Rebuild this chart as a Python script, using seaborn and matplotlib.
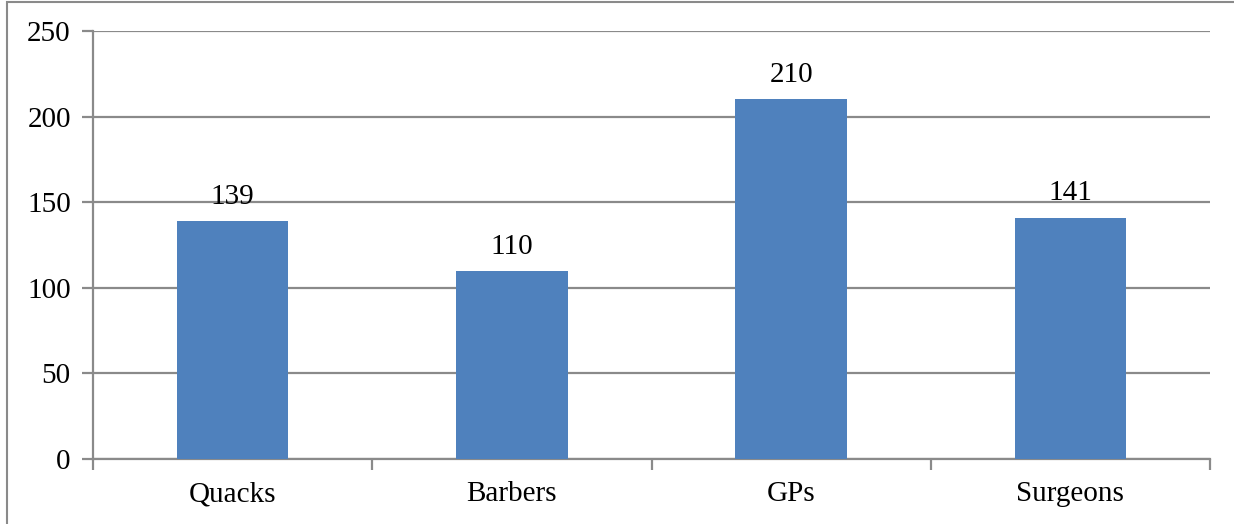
import matplotlib
matplotlib.use("Agg")
import matplotlib.pyplot as plt
from matplotlib.patches import Rectangle
import seaborn as sns
import pandas as pd

categories = ["Quacks", "Barbers", "GPs", "Surgeons"]
counts = [139, 110, 210, 141]
y_ticks = [0, 50, 100, 150, 200, 250]

sns.set_theme(style="white")
plt.rcParams["font.family"] = ["Liberation Serif", "DejaVu Serif"]

df = pd.DataFrame({"category": categories, "count": counts})

fig = plt.figure(figsize=(12.34, 5.24), dpi=100)
ax = fig.add_axes([93 / 1234, 1 - 459 / 524, (1210 - 93) / 1234, (459 - 31) / 524])

grid_color = "#8a8a8a"
sns.barplot(data=df, x="category", y="count", color="#4f81bd", saturation=1,
            width=0.4, linewidth=0, ax=ax, zorder=3)

ax.set_ylim(0, 250)
ax.set_xlim(-0.5, len(categories) - 0.5)
ax.set_yticks(y_ticks)
ax.yaxis.grid(True, color=grid_color, linewidth=1.6, zorder=0)
ax.set_axisbelow(True)
ax.set_xlabel("")
ax.set_ylabel("")

for side in ["top", "right"]:
    ax.spines[side].set_visible(False)
for side in ["left", "bottom"]:
    ax.spines[side].set_color(grid_color)
    ax.spines[side].set_linewidth(1.6)

# Category boundary ticks on the x axis, labels centred between them
ax.set_xticks([i - 0.5 for i in range(len(categories) + 1)], minor=True)
ax.set_xticks(range(len(categories)))
ax.set_xticklabels(categories)
ax.tick_params(axis="x", which="major", bottom=False, length=0, pad=16,
               labelsize=21, colors="black")
ax.tick_params(axis="x", which="minor", bottom=True, length=8, width=1.6,
               color=grid_color, direction="out")
ax.tick_params(axis="y", left=True, length=8, width=1.6, color=grid_color,
               direction="out", pad=8, labelsize=21, labelcolor="black")

for i, v in enumerate(counts):
    ax.annotate(str(v), (i, v), xytext=(0, 8), textcoords="offset points",
                ha="center", va="bottom", fontsize=21, color="black")

# Outer frame of the chart
fig.patches.append(Rectangle((7 / 1234, -0.01), 1.02, 1 - 2 / 524 + 0.01,
                             transform=fig.transFigure, fill=False,
                             edgecolor="#8a8a8a", linewidth=1.5))

fig.savefig("out.png", dpi=100, facecolor="white")
